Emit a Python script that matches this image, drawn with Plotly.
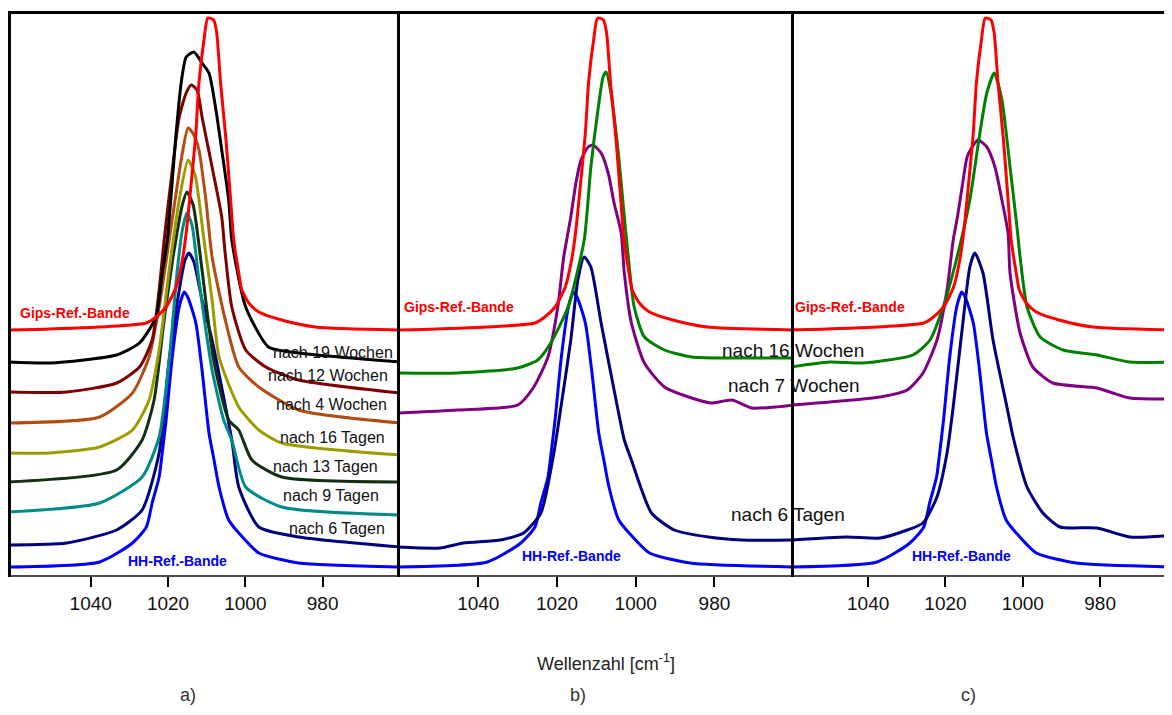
import plotly.graph_objects as go

# reference canvas is 1172x715; the page body adds an 8 px margin, so the figure itself
# is drawn smaller and all layout positions are shifted by that margin.
W, H = 1172, 715
OFF = 8
FW, FH = W - OFF, H - 2 * OFF

# ---------------- data (wavenumber in cm^-1, intensity in a.u., offset-stacked) -------------
# reference bands (identical in all three panels)
gips_wn = [1061.4, 1050.6, 1033.3, 1025.6, 1023.1, 1020.5, 1017.9, 1016.3, 1015.3, 1014.0, 1012.8,
           1012.0, 1010.7, 1009.7, 1008.2, 1007.4, 1006.4, 1005.0, 1003.8, 1003.0, 1001.7, 1000.9,
           999.1, 996.5, 990.6, 981.9, 960.0]
gips_i = [246, 247, 250, 253, 259, 269, 289, 316, 343, 393, 443, 493, 536, 558, 556, 543, 493, 436,
          376, 336, 303, 286, 273, 264, 256, 249, 246]

hh_wn = [1061.4, 1037.7, 1029.2, 1025.6, 1024.1, 1022.3, 1021.5, 1020.5, 1018.9, 1017.1, 1015.8,
         1014.8, 1012.8, 1011.2, 1009.4, 1008.1, 1006.8, 1004.3, 1001.7, 996.5, 986.2, 960.0]
hh_i = [9, 14, 33, 49, 73, 99, 123, 156, 219, 269, 284, 278, 253, 206, 143, 116, 89, 56, 43, 23, 13, 9]

# panel a) time series
a_19w_wn = [1061.4, 1050.6, 1033.3, 1027.4, 1023.1, 1021.5, 1020.2, 1017.9, 1016.6, 1015.3, 1013.3,
            1011.2, 1009.4, 1007.6, 1006.1, 1004.3, 1003.5, 999.9, 994.0, 986.2, 960.0]
a_19w_i = [214, 213, 221, 233, 259, 303, 336, 443, 493, 519, 524, 513, 503, 466, 426, 376, 336, 269,
           229, 223, 214]

a_12w_wn = [1061.4, 1046.2, 1033.3, 1027.4, 1024.1, 1022.3, 1021.0, 1019.2, 1017.1, 1015.3, 1014.0,
            1012.5, 1011.2, 1008.6, 1006.1, 1005.3, 1003.5, 999.9, 994.7, 986.2, 960.0]
a_12w_i = [184, 184, 193, 209, 236, 286, 336, 396, 459, 483, 491, 486, 459, 409, 359, 326, 269, 226,
           209, 196, 183]

a_4w_wn = [1061.4, 1037.7, 1029.2, 1024.9, 1022.3, 1019.7, 1017.6, 1016.6, 1014.8, 1013.3, 1012.0,
           1010.2, 1008.6, 1005.0, 1001.7, 996.5, 986.2, 960.0]
a_4w_i = [153, 159, 183, 219, 269, 336, 391, 416, 448, 441, 426, 376, 319, 253, 209, 189, 166, 153]

a_16t_wn = [1061.4, 1050.6, 1037.7, 1029.2, 1024.9, 1022.3, 1019.7, 1017.1, 1014.8, 1013.0, 1010.7,
            1008.6, 1006.8, 1001.7, 996.5, 990.6, 960.0]
a_16t_i = [123, 123, 129, 146, 176, 226, 306, 376, 416, 401, 336, 276, 219, 169, 146, 133, 121]

a_13t_wn = [1061.4, 1033.3, 1026.7, 1023.6, 1021.0, 1018.4, 1016.3, 1015.1, 1013.5, 1011.2, 1008.2,
            1004.3, 1001.7, 998.3, 990.6, 960.0]
a_13t_i = [94, 106, 136, 176, 256, 326, 371, 384, 371, 306, 216, 156, 146, 116, 99, 94]

a_9t_wn = [1061.4, 1037.7, 1026.7, 1022.3, 1019.7, 1017.6, 1016.3, 1015.1, 1013.8, 1012.0, 1008.6,
           1005.6, 1003.5, 999.9, 990.6, 960.0]
a_9t_i = [64, 73, 99, 139, 216, 306, 346, 363, 351, 296, 206, 156, 136, 89, 69, 61]

a_6t_wn = [1061.4, 1046.2, 1033.3, 1026.7, 1022.3, 1019.7, 1017.1, 1015.6, 1014.6, 1013.3, 1011.2,
           1008.6, 1003.5, 1001.7, 996.5, 986.2, 960.0]
a_6t_i = [31, 33, 46, 66, 123, 216, 286, 316, 323, 314, 276, 236, 136, 89, 49, 39, 29]

# panel b)
b_16w_wn = [1060.4, 1045.3, 1030.0, 1024.9, 1021.6, 1017.2, 1013.1, 1011.4, 1009.6, 1008.3, 1007.5,
            1006.3, 1004.5, 1002.9, 1001.9, 1000.4, 997.8, 992.7, 985.8, 977.4, 960.0]
b_16w_i = [203, 203, 208, 216, 233, 269, 336, 409, 466, 499, 504, 483, 426, 359, 319, 269, 239, 226,
           219, 218, 218]

b_7w_wn = [1060.4, 1045.3, 1030.0, 1025.9, 1022.3, 1019.8, 1018.3, 1016.5, 1015.2, 1013.9, 1012.1,
           1010.9, 1008.8, 1007.0, 1005.5, 1003.7, 1002.9, 1001.1, 997.8, 992.7, 985.8, 980.7, 975.6,
           970.5, 964.6, 960.0]
b_7w_i = [163, 166, 171, 189, 219, 269, 319, 359, 393, 416, 429, 431, 423, 403, 373, 343, 303, 253,
          213, 189, 178, 173, 176, 168, 169, 171]

b_6t_wn = [1060.4, 1049.7, 1043.8, 1034.3, 1028.5, 1024.1, 1020.8, 1019.0, 1016.5, 1014.7, 1013.1,
           1011.4, 1008.8, 1005.5, 1002.9, 1001.1, 996.0, 990.2, 981.5, 973.1, 960.0]
b_6t_i = [29, 28, 33, 36, 43, 63, 123, 169, 236, 296, 319, 309, 253, 186, 136, 116, 63, 46, 39, 36, 36]

# panel c)
c_16w_wn = [1060.0, 1049.9, 1041.3, 1028.4, 1024.0, 1020.6, 1017.0, 1013.7, 1011.1, 1009.3, 1007.4,
            1005.4, 1003.3, 1001.5, 1000.7, 998.9, 995.5, 989.6, 980.8, 972.3, 960.0]
c_16w_i = [209, 214, 213, 221, 236, 269, 319, 376, 443, 483, 503, 476, 409, 349, 319, 269, 239, 226,
           221, 214, 214]

c_7w_wn = [1060.0, 1049.9, 1036.9, 1029.9, 1025.8, 1022.2, 1019.6, 1018.0, 1016.9, 1015.7, 1014.4,
           1013.1, 1011.6, 1009.3, 1007.2, 1005.4, 1003.8, 1003.3, 1000.7, 997.4, 992.2, 980.8, 976.7,
           972.3, 960.0]
c_7w_i = [171, 174, 179, 186, 203, 236, 286, 336, 359, 389, 419, 429, 436, 429, 409, 376, 343, 303,
          243, 209, 193, 188, 183, 178, 177]

c_6t_wn = [1060.0, 1045.5, 1036.9, 1029.9, 1025.8, 1022.2, 1019.6, 1018.0, 1015.5, 1013.7, 1012.4,
           1010.3, 1007.7, 1004.1, 1002.5, 998.9, 994.8, 990.4, 980.8, 972.3, 960.0]
c_6t_i = [36, 39, 38, 46, 53, 79, 123, 169, 253, 309, 323, 303, 236, 169, 139, 89, 63, 49, 48, 39, 41]

# ---------------- styling ----------------
RED, BLUE = "#ff0000", "#0000ff"
COL = {"19w": "#000000", "12w": "#7f0000", "4w": "#b24c12", "16t": "#9c9c00",
       "13t": "#113011", "9t": "#008a8a", "6t": "#000080", "green": "#008000", "purple": "#800080"}
LW = 3
FONT = "Liberation Sans, Arial, sans-serif"

fig = go.Figure()


def add(xs, ys, color, ax):
    fig.add_trace(go.Scatter(x=xs, y=ys, mode="lines",
                             line=dict(color=color, width=LW, shape="spline", smoothing=0.6),
                             xaxis=ax, yaxis=ax.replace("x", "y"), showlegend=False,
                             hoverinfo="skip"))


# panel a
add(hh_wn, hh_i, BLUE, "x")
add(a_6t_wn, a_6t_i, COL["6t"], "x")
add(a_9t_wn, a_9t_i, COL["9t"], "x")
add(a_13t_wn, a_13t_i, COL["13t"], "x")
add(a_16t_wn, a_16t_i, COL["16t"], "x")
add(a_4w_wn, a_4w_i, COL["4w"], "x")
add(a_12w_wn, a_12w_i, COL["12w"], "x")
add(a_19w_wn, a_19w_i, COL["19w"], "x")
add(gips_wn, gips_i, RED, "x")
# panel b
add(hh_wn, hh_i, BLUE, "x2")
add(b_6t_wn, b_6t_i, COL["6t"], "x2")
add(b_7w_wn, b_7w_i, COL["purple"], "x2")
add(b_16w_wn, b_16w_i, COL["green"], "x2")
add(gips_wn, gips_i, RED, "x2")
# panel c
add(hh_wn, hh_i, BLUE, "x3")
add(c_6t_wn, c_6t_i, COL["6t"], "x3")
add(c_7w_wn, c_7w_i, COL["purple"], "x3")
add(c_16w_wn, c_16w_i, COL["green"], "x3")
add(gips_wn, gips_i, RED, "x3")


def PX(x):
    return (x - OFF) / FW


def PY(y):
    return 1 - (y - OFF) / FH


ydom = [PY(576), PY(12)]
tickvals = [1040, 1020, 1000, 980]
xcommon = dict(tickvals=tickvals, ticktext=[str(v) for v in tickvals], ticks="outside", ticklen=10,
               tickwidth=2, tickcolor="#000", showline=False, showgrid=False, zeroline=False,
               tickfont=dict(family=FONT, size=19, color="#111"), fixedrange=True)
ycommon = dict(domain=ydom, range=[0, 564], visible=False, fixedrange=True)

fig.update_layout(
    width=FW, height=FH, margin=dict(l=0, r=0, t=0, b=0),
    paper_bgcolor="white", plot_bgcolor="rgba(0,0,0,0)",
    xaxis=dict(domain=[PX(8), PX(398)], range=[1061.4, 960.5], anchor="y", **xcommon),
    xaxis2=dict(domain=[PX(398), PX(792)], range=[1060.4, 960.3], anchor="y2", **xcommon),
    xaxis3=dict(domain=[PX(792), 1.0], range=[1059.7, 961.4], anchor="y3", **xcommon),
    yaxis=dict(anchor="x", **ycommon),
    yaxis2=dict(anchor="x2", **ycommon),
    yaxis3=dict(anchor="x3", **ycommon),
)

# frame lines
shapes = [
    dict(type="line", xref="paper", yref="paper", x0=PX(8), x1=1.0, y0=PY(12.5), y1=PY(12.5),
         line=dict(color="#000", width=3)),
    dict(type="line", xref="paper", yref="paper", x0=PX(8), x1=1.0, y0=PY(576), y1=PY(576),
         line=dict(color="#111", width=1.6)),
]
for xv in (9.5, 398.5, 792.5):
    shapes.append(dict(type="line", xref="paper", yref="paper", x0=PX(xv), x1=PX(xv),
                       y0=PY(11), y1=PY(577), line=dict(color="#000", width=3)))
fig.update_layout(shapes=shapes)

anns = []


def label(text, x, y, size, color="#111", bold=False, yanchor="middle"):
    t = f"<b>{text}</b>" if bold else text
    anns.append(dict(text=t, x=PX(x), y=PY(y), xref="paper", yref="paper", showarrow=False,
                     xanchor="center", yanchor=yanchor,
                     font=dict(family=FONT, size=size, color=color)))


# panel a labels
label("Gips-Ref.-Bande", 75, 313, 14, RED, True)
label("nach 19 Wochen", 333, 352, 16)
label("nach 12 Wochen", 328, 375, 16)
label("nach 4 Wochen", 331, 404, 16)
label("nach 16 Tagen", 332, 437, 16)
label("nach 13 Tagen", 325, 467, 16)
label("nach 9 Tagen", 331, 495, 16)
label("nach 6 Tagen", 337, 528, 16)
label("HH-Ref.-Bande", 177, 561, 14, BLUE, True)
# panel b labels
label("Gips-Ref.-Bande", 459, 307, 14, RED, True)
label("nach 16 Wochen", 793, 350, 19)
label("nach 7 Wochen", 794, 385, 19)
label("nach 6 Tagen", 788, 514, 19)
label("HH-Ref.-Bande", 571, 556, 14, BLUE, True)
# panel c labels
label("Gips-Ref.-Bande", 850, 307, 14, RED, True)
label("HH-Ref.-Bande", 961, 556, 14, BLUE, True)
# axis title and panel letters
label("Wellenzahl [cm<sup>-1</sup>]", 606, 662, 18, "#222")
label("a)", 188, 707, 18, "#333", yanchor="bottom")
label("b)", 578, 707, 18, "#333", yanchor="bottom")
label("c)", 968, 707, 18, "#333", yanchor="bottom")

fig.update_layout(annotations=anns)

fig.write_html("out.html")
